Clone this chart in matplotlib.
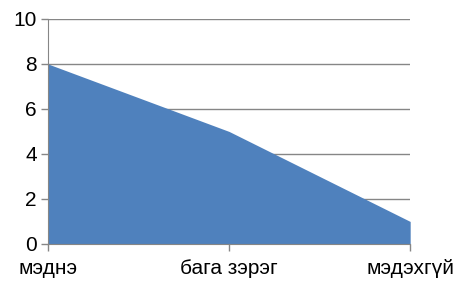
import matplotlib
matplotlib.use("Agg")
import matplotlib.pyplot as plt

plt.rcParams['font.family'] = ['Liberation Sans', 'DejaVu Sans']

categories = ["мэднэ", "бага зэрэг", "мэдэхгүй"]
values = [8, 5, 1]

fig = plt.figure(figsize=(4.55, 2.83), dpi=100)
ax = fig.add_axes([0.1055, 0.138, 0.796, 0.795])

x = list(range(len(categories)))
ax.fill_between(x, values, 0, color="#4F81BD", linewidth=0, zorder=3)

ax.set_xlim(0, len(categories) - 1)
ax.set_ylim(0, 10)
ax.set_yticks([0, 2, 4, 6, 8, 10])
ax.set_xticks(x)
ax.set_xticklabels(categories)

ax.grid(axis="y", color="#868686", linewidth=1, zorder=1)
ax.set_axisbelow(True)
for s in ["top", "right"]:
    ax.spines[s].set_visible(False)
for s in ["left", "bottom"]:
    ax.spines[s].set_color("#868686")
    ax.spines[s].set_zorder(4)
ax.tick_params(axis="both", colors="#868686", length=5, width=1, labelsize=15,
               labelcolor="black", direction="out")
ax.tick_params(axis="x", pad=6)
ax.tick_params(axis="y", pad=3)

fig.savefig("out.png", dpi=100)
